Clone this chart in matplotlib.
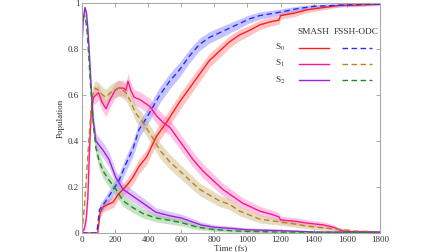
import numpy as np
import matplotlib
matplotlib.use("Agg")
import matplotlib.pyplot as plt

plt.rcParams['font.family'] = ['Liberation Serif', 'DejaVu Serif']
plt.rcParams['mathtext.fontset'] = 'stix'

# ---- data ----
t_s0_smash = [0, 95, 110, 130, 160, 190, 220, 250, 280, 310, 345, 390, 450, 510, 590, 650, 710, 770,
              830, 890, 950, 1010, 1075, 1150, 1190, 1200, 1280, 1360, 1460, 1560, 1650, 1800]
p_s0_smash = [0, 0, 0.09, 0.115, 0.125, 0.135, 0.17, 0.19, 0.215, 0.245, 0.29, 0.33, 0.42, 0.48, 0.57,
              0.63, 0.69, 0.75, 0.79, 0.83, 0.86, 0.88, 0.905, 0.92, 0.925, 0.945, 0.955, 0.97, 0.98,
              0.99, 0.99, 0.995]

t_s0_fssh = [0, 90, 105, 145, 190, 225, 265, 310, 345, 390, 470, 530, 590, 650, 710, 770, 830, 890,
             950, 1010, 1075, 1200, 1300, 1400, 1560, 1650, 1800]
p_s0_fssh = [0, 0, 0.10, 0.14, 0.19, 0.23, 0.30, 0.37, 0.45, 0.50, 0.60, 0.66, 0.71, 0.77, 0.82, 0.85,
             0.87, 0.89, 0.91, 0.93, 0.945, 0.96, 0.975, 0.985, 0.99, 0.993, 0.995]

t_s1_smash = [0, 15, 25, 35, 45, 55, 70, 85, 100, 120, 145, 170, 200, 220, 250, 265, 278, 295, 315,
              350, 410, 450, 490, 530, 600, 670, 730, 790, 850, 910, 970, 1075, 1150, 1190, 1200,
              1300, 1360, 1460, 1520, 1560, 1600, 1800]
p_s1_smash = [0, 0.02, 0.06, 0.15, 0.35, 0.52, 0.59, 0.60, 0.61, 0.57, 0.54, 0.58, 0.62, 0.63, 0.63,
              0.62, 0.66, 0.62, 0.59, 0.58, 0.55, 0.51, 0.48, 0.46, 0.39, 0.32, 0.27, 0.23, 0.19, 0.16,
              0.13, 0.095, 0.08, 0.07, 0.057, 0.05, 0.043, 0.035, 0.025, 0.012, 0.006, 0.004]

t_s1_fssh = [0, 15, 30, 45, 55, 65, 80, 100, 125, 145, 170, 190, 225, 265, 295, 325, 360, 395, 430,
             470, 530, 590, 650, 710, 770, 830, 890, 954, 1075, 1200, 1280, 1360, 1460, 1560, 1650, 1800]
p_s1_fssh = [0, 0.12, 0.28, 0.44, 0.54, 0.60, 0.63, 0.62, 0.60, 0.59, 0.61, 0.62, 0.63, 0.61, 0.57,
             0.52, 0.49, 0.45, 0.41, 0.36, 0.31, 0.27, 0.23, 0.19, 0.165, 0.14, 0.125, 0.095, 0.06,
             0.048, 0.04, 0.03, 0.022, 0.015, 0.008, 0.005]

t_s2_smash = [0, 8, 18, 28, 36, 45, 54, 66, 84, 105, 127, 163, 205, 248, 308, 368, 447, 530, 600,
              660, 720, 800, 900, 1000, 1100, 1200, 1350, 1400, 1800]
p_s2_smash = [0.82, 0.93, 0.98, 0.95, 0.88, 0.77, 0.65, 0.50, 0.40, 0.38, 0.36, 0.32, 0.24, 0.19,
              0.16, 0.13, 0.09, 0.075, 0.065, 0.05, 0.035, 0.025, 0.02, 0.014, 0.012, 0.01, 0.006,
              0.004, 0.003]

t_s2_fssh = [0, 10, 20, 30, 40, 50, 60, 70, 84, 105, 127, 163, 205, 248, 308, 368, 447, 530, 600,
             700, 800, 900, 1000, 1200, 1800]
p_s2_fssh = [0.93, 0.945, 0.94, 0.88, 0.78, 0.66, 0.56, 0.46, 0.37, 0.31, 0.27, 0.23, 0.19, 0.14,
             0.11, 0.085, 0.065, 0.055, 0.045, 0.025, 0.015, 0.01, 0.007, 0.004, 0.002]

x_ticks = [0, 200, 400, 600, 800, 1000, 1200, 1400, 1600, 1800]
y_ticks = [0, 0.2, 0.4, 0.6, 0.8, 1.0]
y_tick_labels = ["0", "0.2", "0.4", "0.6", "0.8", "1"]
state_labels = [r"S$_0$", r"S$_1$", r"S$_2$"]
method_labels = ["SMASH", "FSSH-ODC"]

series = [
    (t_s0_smash, p_s0_smash, '#ff1e1e', '#ff7a7a', '-'),
    (t_s0_fssh, p_s0_fssh, '#2a2aff', '#7a7aff', '--'),
    (t_s1_smash, p_s1_smash, '#ff1493', '#ff7cc4', '-'),
    (t_s1_fssh, p_s1_fssh, '#b8861e', '#c9b07a', '--'),
    (t_s2_smash, p_s2_smash, '#9b20e0', '#bf80ee', '-'),
    (t_s2_fssh, p_s2_fssh, '#1f8a1f', '#7fbf7f', '--'),
]

fig = plt.figure(figsize=(4.48, 2.52), dpi=100)
ax = fig.add_axes([0.183, 0.0754, 0.665, 0.913])

for t, p, c, bc, ls in series:
    t = np.asarray(t, float)
    p = np.asarray(p, float)
    err = 0.07 * np.sqrt(np.clip(p * (1 - p), 0, None))
    ax.fill_between(t, p - err, p + err, color=bc, alpha=0.45, lw=0)
for t, p, c, bc, ls in series:
    if ls == '--':
        ax.plot(t, p, color=c, lw=1.0, ls=(0, (4, 2.5)))
    else:
        ax.plot(t, p, color=c, lw=1.0)

ax.set_xlim(0, 1800)
ax.set_ylim(0, 1)
ax.set_xticks(x_ticks)
ax.set_yticks(y_ticks)
ax.set_yticklabels(y_tick_labels)
ax.tick_params(direction='in', top=True, right=True, length=3, width=0.6,
               color='#999999', labelsize=6.5, labelcolor='#333333', pad=2)
for s in ax.spines.values():
    s.set_color('#aaaaaa')
    s.set_linewidth(0.8)
ax.set_xlabel("Time (fs)", fontsize=6.5, color='#333333', labelpad=0)
ax.set_ylabel("Population", fontsize=6.5, color='#333333', labelpad=2)

# custom legend table
tr = ax.transAxes
ax.text(0.778, 0.874, method_labels[0], transform=tr, ha='center', va='center', fontsize=6.7, color='#333333')
ax.text(0.919, 0.874, method_labels[1], transform=tr, ha='center', va='center', fontsize=6.7, color='#333333')
rows_y = [0.805, 0.735, 0.665]
for i, y in enumerate(rows_y):
    ax.text(0.664, y, state_labels[i], transform=tr, ha='center', va='center', fontsize=6.7, color='#333333')
    c1 = series[2 * i][2]
    c2 = series[2 * i + 1][2]
    ax.plot([0.728, 0.829], [y, y], transform=tr, color=c1, lw=1.0)
    ax.plot([0.872, 0.973], [y, y], transform=tr, color=c2, lw=1.0, ls=(0, (4, 2.5)))

fig.savefig("out.png", dpi=100)
